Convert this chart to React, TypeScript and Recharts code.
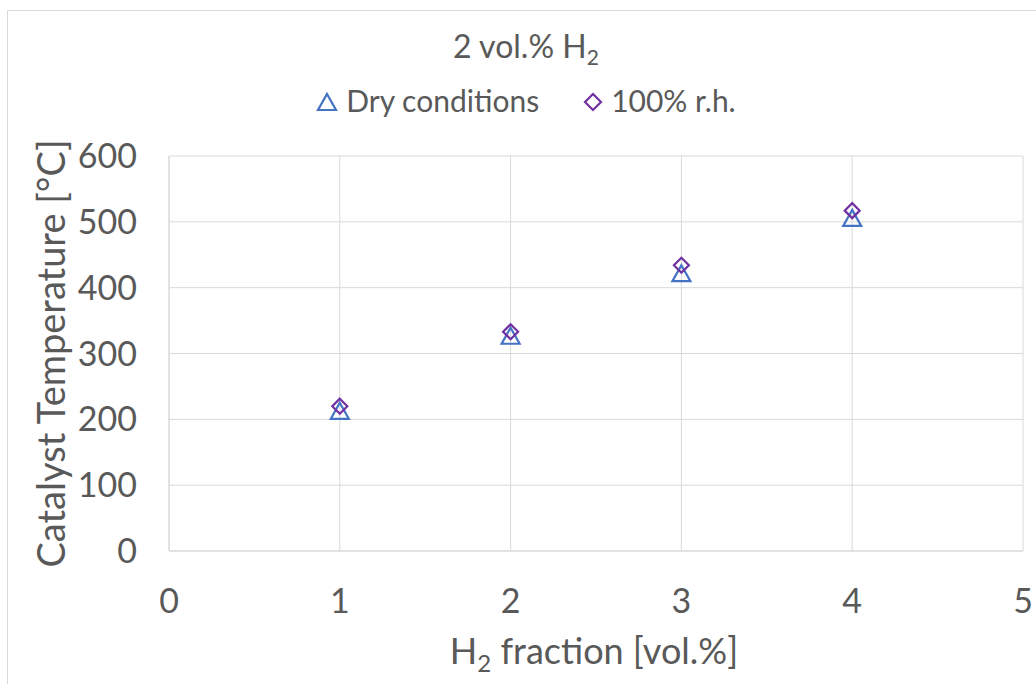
import React from "react";
import {
  ScatterChart,
  Scatter,
  XAxis,
  YAxis,
  CartesianGrid,
  Label,
} from "recharts";

const xValues = [1, 2, 3, 4];
const dryTemps = [213, 327, 422, 506];
const humidTemps = [220, 333, 434, 517];
const xTicks = [0, 1, 2, 3, 4, 5];
const yTicks = [0, 100, 200, 300, 400, 500, 600];

const dryData = xValues.map((x, i) => ({ x, y: dryTemps[i] }));
const humidData = xValues.map((x, i) => ({ x, y: humidTemps[i] }));

const FONT = "Lato, 'Liberation Sans', sans-serif";
const TEXT = "#595959";
const BLUE = "#4472C4";
const PURPLE = "#7030A0";

const Triangle = (props: any) => {
  const { cx, cy } = props;
  if (cx == null || cy == null) return null;
  return (
    <polygon
      points={`${cx},${cy - 8} ${cx + 9},${cy + 8} ${cx - 9},${cy + 8}`}
      fill="none"
      stroke={BLUE}
      strokeWidth={2.2}
    />
  );
};

const Diamond = (props: any) => {
  const { cx, cy } = props;
  if (cx == null || cy == null) return null;
  return (
    <polygon
      points={`${cx},${cy - 7.5} ${cx + 7.5},${cy} ${cx},${cy + 7.5} ${cx - 7.5},${cy}`}
      fill="none"
      stroke={PURPLE}
      strokeWidth={2.2}
    />
  );
};

// title and legend sit above the plot, as in the original
const Header = () => (
  <div
    style={{
      position: "absolute",
      left: 0,
      top: 26,
      width: 1052,
      fontFamily: FONT,
      color: TEXT,
      textAlign: "center",
    }}
  >
    <div style={{ fontSize: 32, lineHeight: "40px" }}>
      2 vol.% H<sub style={{ fontSize: 21, lineHeight: 0 }}>2</sub>
    </div>
    <div style={{ fontSize: 30, lineHeight: "40px", marginTop: 14 }}>
      <svg width={22} height={20} style={{ marginRight: 8 }}>
        <polygon points="11,2 20,18 2,18" fill="none" stroke={BLUE} strokeWidth={2.2} />
      </svg>
      <span style={{ marginRight: 44 }}>Dry conditions</span>
      <svg width={20} height={20} style={{ marginRight: 8 }}>
        <polygon points="10,2 18,10 10,18 2,10" fill="none" stroke={PURPLE} strokeWidth={2.2} />
      </svg>
      <span>100% r.h.</span>
    </div>
  </div>
);

const XTitle = (props: any) => {
  const { viewBox } = props;
  const cx = viewBox.x + viewBox.width / 2;
  return (
    <text
      x={cx - 2}
      y={viewBox.y + 113}
      textAnchor="middle"
      fill={TEXT}
      fontFamily={FONT}
      fontSize={36}
    >
      H<tspan fontSize={24} dy={8}>2</tspan>
      <tspan dy={-8}> fraction [vol.%]</tspan>
    </text>
  );
};

export default function App() {
  return (
    <div style={{ position: "absolute", left: 0, top: 0, width: 1036, height: 684, background: "#fff", overflow: "hidden" }}>
      <div
        style={{
          position: "absolute",
          left: 7,
          top: 10,
          width: 1040,
          height: 680,
          border: "1px solid #d9d9d9",
          boxSizing: "border-box",
        }}
      />
      <Header />
      <ScatterChart
        width={1036}
        height={684}
        margin={{ top: 156, right: 13, bottom: 0, left: 0 }}
        style={{ position: "absolute", left: 0, top: 0 }}
      >
        <CartesianGrid stroke="#d9d9d9" strokeWidth={1} />
        <XAxis
          type="number"
          dataKey="x"
          domain={[0, 5]}
          ticks={xTicks}
          interval={0}
          stroke="#d9d9d9"
          tickLine={false}
          tickSize={0}
          tickMargin={38}
          tick={{ fill: TEXT, fontSize: 34, fontFamily: FONT }}
          allowDecimals={false}
          height={133}
        >
          <Label content={<XTitle />} />
        </XAxis>
        <YAxis
          type="number"
          dataKey="y"
          domain={[0, 600]}
          ticks={yTicks}
          interval={0}
          stroke="#d9d9d9"
          tickLine={false}
          tickSize={0}
          tickMargin={32}
          width={169}
          tick={{ fill: TEXT, fontSize: 34, fontFamily: FONT }}
        >
          <Label
            value="Catalyst Temperature [°C]"
            angle={-90}
            position="insideLeft"
            offset={52}
            style={{ textAnchor: "middle", fill: TEXT, fontSize: 38, fontFamily: FONT }}
          />
        </YAxis>
        <Scatter
          name="Dry conditions"
          data={dryData}
          shape={<Triangle />}
          isAnimationActive={false}
        />
        <Scatter
          name="100% r.h."
          data={humidData}
          shape={<Diamond />}
          isAnimationActive={false}
        />
      </ScatterChart>
    </div>
  );
}
